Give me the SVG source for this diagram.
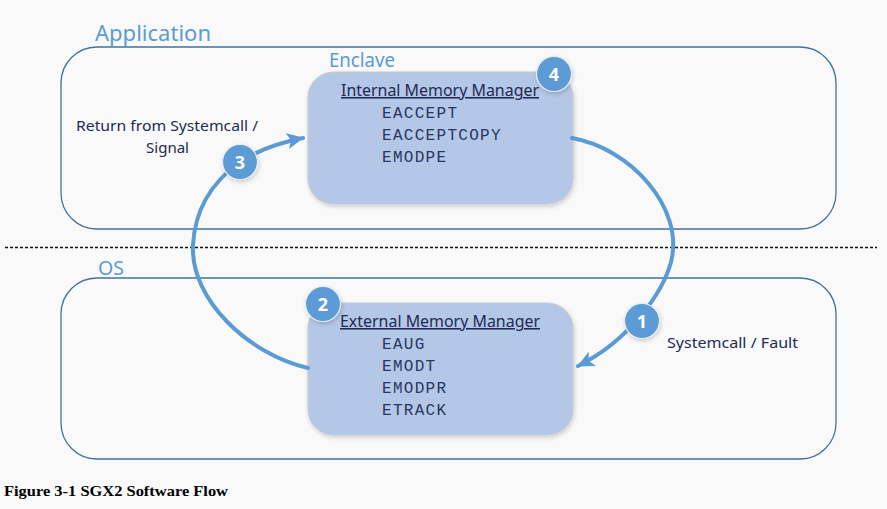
<svg xmlns="http://www.w3.org/2000/svg" width="887" height="509" viewBox="0 0 887 509">
<defs>
<style>
.zone{fill:none;stroke:#41719c;stroke-width:1.3}
.zlabel{font-family:"Noto Sans","Open Sans",sans-serif;fill:#5b9bd5}
.node{fill:#b4c7e7;stroke:#c3cad6;stroke-width:1.2}
.title{font-family:"Noto Sans","Open Sans",sans-serif;font-size:15.5px;fill:#1f2a52;text-decoration:underline}
.op{font-family:"Liberation Mono","Courier New",monospace;font-size:16px;letter-spacing:1.3px;fill:#2a3560}
.lbl{font-family:"Noto Sans","Open Sans",sans-serif;font-size:14.5px;fill:#1f2a52}
.badge{fill:#5b9bd5;stroke:#e8eef6;stroke-width:1.2}
.num{font-family:"Noto Sans","Open Sans",sans-serif;font-size:18px;font-weight:bold;fill:#ffffff;text-anchor:middle}
.conn{fill:none;stroke:#5b9bd5;stroke-width:4;stroke-linecap:round}
</style>
<marker id="arr" markerUnits="userSpaceOnUse" markerWidth="20" markerHeight="18" refX="16" refY="8" orient="auto">
<path d="M0,0 L17,8 L0,16 L4,8 Z" fill="#5b9bd5"/>
</marker>
<filter id="sh" x="-10%" y="-10%" width="125%" height="130%">
<feDropShadow dx="1" dy="2" stdDeviation="2" flood-color="#000" flood-opacity="0.18"/>
</filter>
</defs>
<rect x="0" y="0" width="887" height="509" fill="#f9f9f9"/>

<g id="application">
<rect class="zone" x="61" y="47" width="775" height="182" rx="36" ry="36"/>
<text class="zlabel" x="95" y="41" font-size="22" textLength="116" lengthAdjust="spacingAndGlyphs">Application</text>
</g>
<line x1="5" y1="247.5" x2="877" y2="247.5" stroke="#111" stroke-width="1.5" stroke-dasharray="3,2"/>
<g id="os">
<rect class="zone" x="61" y="278" width="775" height="181" rx="36" ry="36"/>
<text class="zlabel" x="98" y="275" font-size="20" textLength="26" lengthAdjust="spacingAndGlyphs">OS</text>
</g>

<g id="enclave">
<text class="zlabel" x="329" y="67" font-size="19" textLength="66" lengthAdjust="spacingAndGlyphs">Enclave</text>
<rect class="node" x="308" y="72" width="265" height="132" rx="26" ry="26" filter="url(#sh)"/>
<text class="title" x="341" y="96" textLength="198" lengthAdjust="spacingAndGlyphs">Internal Memory Manager</text>
<text class="op" x="382" y="118">EACCEPT</text>
<text class="op" x="382" y="140">EACCEPTCOPY</text>
<text class="op" x="382" y="162">EMODPE</text>
</g>

<g id="external">
<rect class="node" x="308" y="303" width="265" height="132" rx="26" ry="26" filter="url(#sh)"/>
<text class="title" x="340" y="327" textLength="200" lengthAdjust="spacingAndGlyphs">External Memory Manager</text>
<text class="op" x="382" y="349">EAUG</text>
<text class="op" x="382" y="371">EMODT</text>
<text class="op" x="382" y="393">EMODPR</text>
<text class="op" x="382" y="415">ETRACK</text>
</g>

<g id="connectors">
<path class="conn" d="M572,138 C630,148 685,208 671,262 C663,292 630,340 578,366" marker-end="url(#arr)"/>
<path class="conn" d="M308,368 C250,355 190,300 193,245 C195,205 215,180 240,162 C258,150 278,143 303,138" marker-end="url(#arr)"/>
<text class="lbl" x="76" y="131" textLength="182" lengthAdjust="spacingAndGlyphs">Return from Systemcall /</text>
<text class="lbl" x="146" y="153" textLength="43" lengthAdjust="spacingAndGlyphs">Signal</text>
<text class="lbl" x="667" y="348" textLength="131" lengthAdjust="spacingAndGlyphs">Systemcall / Fault</text>
</g>

<g id="badge1"><circle class="badge" cx="642" cy="321" r="17.5" filter="url(#sh)"/><text class="num" x="642" y="327.5">1</text></g>
<g id="badge2"><circle class="badge" cx="323" cy="304" r="17.5" filter="url(#sh)"/><text class="num" x="323" y="310.5">2</text></g>
<g id="badge3"><circle class="badge" cx="240" cy="162" r="17.5" filter="url(#sh)"/><text class="num" x="240" y="168.5">3</text></g>
<g id="badge4"><circle class="badge" cx="554" cy="74" r="17.5" filter="url(#sh)"/><text class="num" x="554" y="80.5">4</text></g>

<text x="4" y="496" font-family="Liberation Serif,'Times New Roman',serif" font-weight="bold" font-size="14" fill="#000" textLength="224" lengthAdjust="spacingAndGlyphs">Figure 3-1 SGX2 Software Flow</text>
</svg>
